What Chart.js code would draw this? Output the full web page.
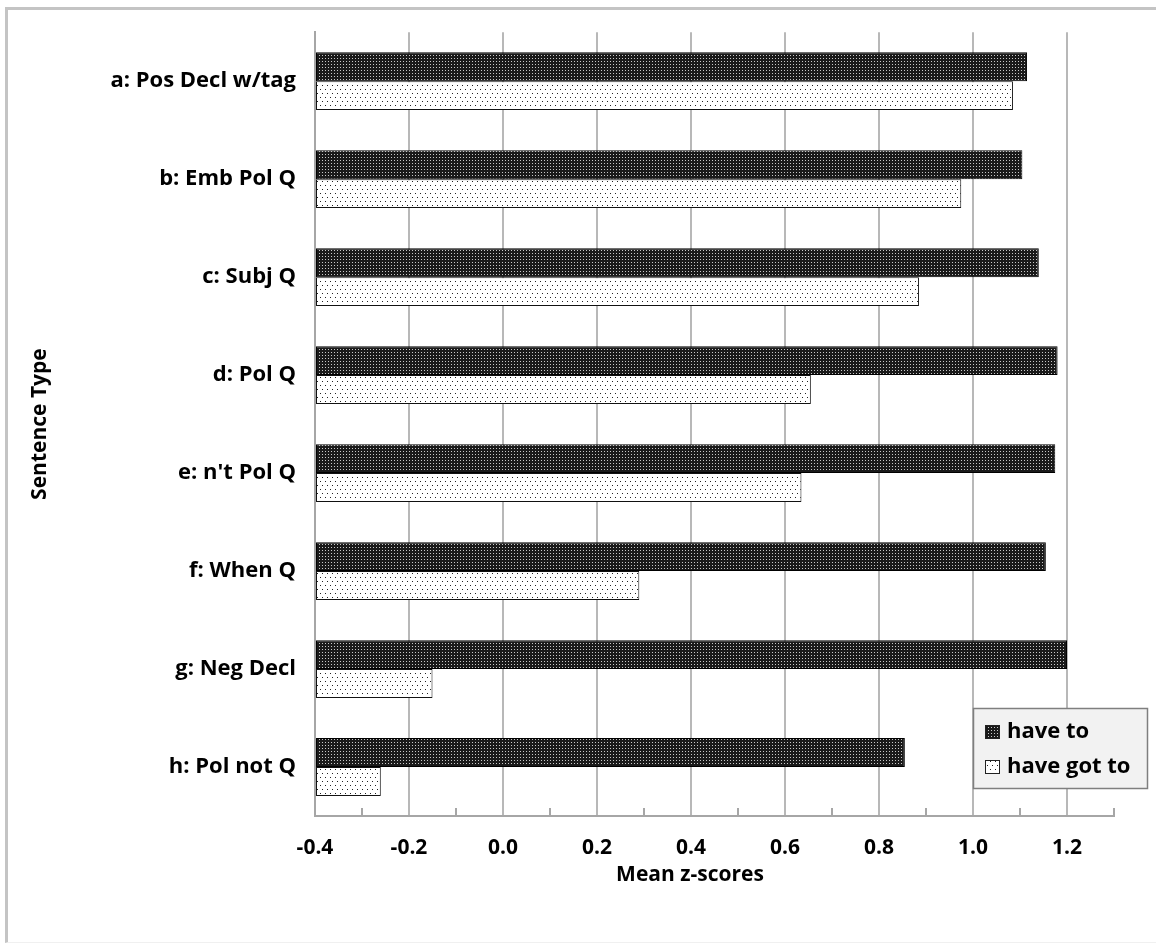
<!DOCTYPE html>
<html>
<head>
<meta charset="utf-8">
<script src="https://cdn.jsdelivr.net/npm/chart.js@4.4.1/dist/chart.umd.min.js"></script>
<style>
    html, body { margin: 0; padding: 0; background: #fff; overflow: hidden; }
    #wrap { position: relative; width: 1156px; height: 945px; }
    #frame {
        position: absolute; left: 5px; top: 7px; right: 0; bottom: 2px;
        border-left: 3px solid #c4c4c4; border-top: 3px solid #c4c4c4;
        border-bottom: 1px solid #f0f0f0; pointer-events: none;
    }
</style>
</head>
<body>
<div id="wrap"><canvas id="chart"></canvas><div id="frame"></div></div>
<script>
const categories = [
    "a: Pos Decl w/tag",
    "b: Emb Pol Q",
    "c: Subj Q",
    "d: Pol Q",
    "e: n't Pol Q",
    "f: When Q",
    "g: Neg Decl",
    "h: Pol not Q"
];
const haveTo = [1.115, 1.105, 1.14, 1.18, 1.175, 1.155, 1.2, 0.855];
const haveGotTo = [1.085, 0.975, 0.885, 0.655, 0.635, 0.29, -0.15, -0.26];
const seriesLabels = ["have to", "have got to"];
const xMin = -0.4;
const xMax = 1.3;
const xTitle = "Mean z-scores";
const yTitle = "Sentence Type";

const FONT = "'Open Sans', sans-serif";
const catFont = { family: FONT, size: 22, weight: "bold" };
const tickFont = { family: FONT, size: 21, weight: "bold" };

const makePattern = (w, h, bg, fg, dots) => {
    const c = document.createElement("canvas");
    c.width = w;
    c.height = h;
    const g = c.getContext("2d");
    g.fillStyle = bg;
    g.fillRect(0, 0, w, h);
    g.fillStyle = fg;
    dots.forEach(([x, y]) => g.fillRect(x, y, 1, 1));
    return g.createPattern(c, "repeat");
};

const darkFill = makePattern(3, 3, "#1a1a1a", "#c8c8c8", [[1, 1]]);
const lightFill = makePattern(5, 8, "#ffffff", "#222222", [[0, 1], [2, 5]]);

const isMajor = (v) => Math.abs(Math.round(v * 10)) % 2 === 0;

// minor tick marks, x title and boxed legend
const extras = {
    id: "extras",
    afterDraw(chart) {
        const { ctx, chartArea } = chart;
        const xs = chart.scales.x;
        ctx.save();
        ctx.strokeStyle = "#a6a6a6";
        ctx.lineWidth = 2;
        xs.ticks.forEach((t) => {
            if (isMajor(t.value)) return;
            const px = Math.round(xs.getPixelForValue(t.value));
            ctx.beginPath();
            ctx.moveTo(px, chartArea.bottom);
            ctx.lineTo(px, chartArea.bottom - 8);
            ctx.stroke();
        });

        ctx.fillStyle = "#000";
        ctx.font = "bold 21px " + FONT;
        ctx.textAlign = "center";
        ctx.textBaseline = "middle";
        ctx.fillText(xTitle, 690, 875);

        // legend
        const lx = 973, ly = 708, lw = 174, lh = 80;
        ctx.fillStyle = "#f2f2f2";
        ctx.fillRect(lx, ly, lw, lh);
        ctx.strokeStyle = "#7f7f7f";
        ctx.lineWidth = 1.5;
        ctx.strokeRect(lx + 0.5, ly + 0.5, lw, lh);
        ctx.font = "bold 22px " + FONT;
        ctx.textAlign = "left";
        chart.data.datasets.forEach((ds, i) => {
            const cy = ly + 24 + i * 35;
            ctx.fillStyle = ds.backgroundColor;
            ctx.fillRect(lx + 12, cy - 7, 15, 14);
            ctx.strokeStyle = "#222";
            ctx.lineWidth = 1;
            ctx.strokeRect(lx + 12.5, cy - 6.5, 14, 13);
            ctx.fillStyle = "#000";
            ctx.fillText(ds.label, lx + 34, cy);
        });
        ctx.restore();
    }
};

new Chart(document.getElementById("chart"), {
    type: "bar",
    data: {
        labels: categories,
        datasets: [
            {
                label: seriesLabels[0],
                data: haveTo,
                base: xMin,
                backgroundColor: darkFill,
                borderColor: "#000",
                borderWidth: 1,
                borderSkipped: false
            },
            {
                label: seriesLabels[1],
                data: haveGotTo,
                base: xMin,
                backgroundColor: lightFill,
                borderColor: "#111",
                borderWidth: 1,
                borderSkipped: false
            }
        ]
    },
    options: {
        indexAxis: "y",
        responsive: true,
        maintainAspectRatio: false,
        animation: false,
        categoryPercentage: 0.59,
        barPercentage: 1.0,
        layout: { padding: { left: 0, top: 28, right: 42, bottom: 0 } },
        plugins: {
            legend: { display: false },
            tooltip: { enabled: false }
        },
        scales: {
            x: {
                type: "linear",
                min: xMin,
                max: xMax,
                ticks: {
                    stepSize: 0.1,
                    autoSkip: false,
                    maxRotation: 0,
                    padding: 19,
                    color: "#000",
                    font: tickFont,
                    callback: (v) => (isMajor(v) ? (Math.abs(v) < 1e-9 ? 0 : v).toFixed(1) : "")
                },
                grid: {
                    drawTicks: false,
                    lineWidth: 2,
                    color: (ctx) => (ctx.tick && isMajor(ctx.tick.value) ? "#b8b8b8" : "rgba(0,0,0,0)")
                },
                border: { display: true, color: "#a6a6a6", width: 2 },
                afterFit: (s) => { s.height = 945 - 816; }
            },
            y: {
                grid: { display: false, drawTicks: false },
                border: { display: true, color: "#a6a6a6", width: 2 },
                ticks: { padding: 19, color: "#000", font: catFont },
                title: {
                    display: true,
                    text: yTitle,
                    color: "#000",
                    font: { family: FONT, size: 21, weight: "bold" },
                    padding: { top: 27, bottom: 0 }
                },
                afterFit: (s) => { s.width = 315; }
            }
        }
    },
    plugins: [extras]
});
</script>
</body>
</html>
